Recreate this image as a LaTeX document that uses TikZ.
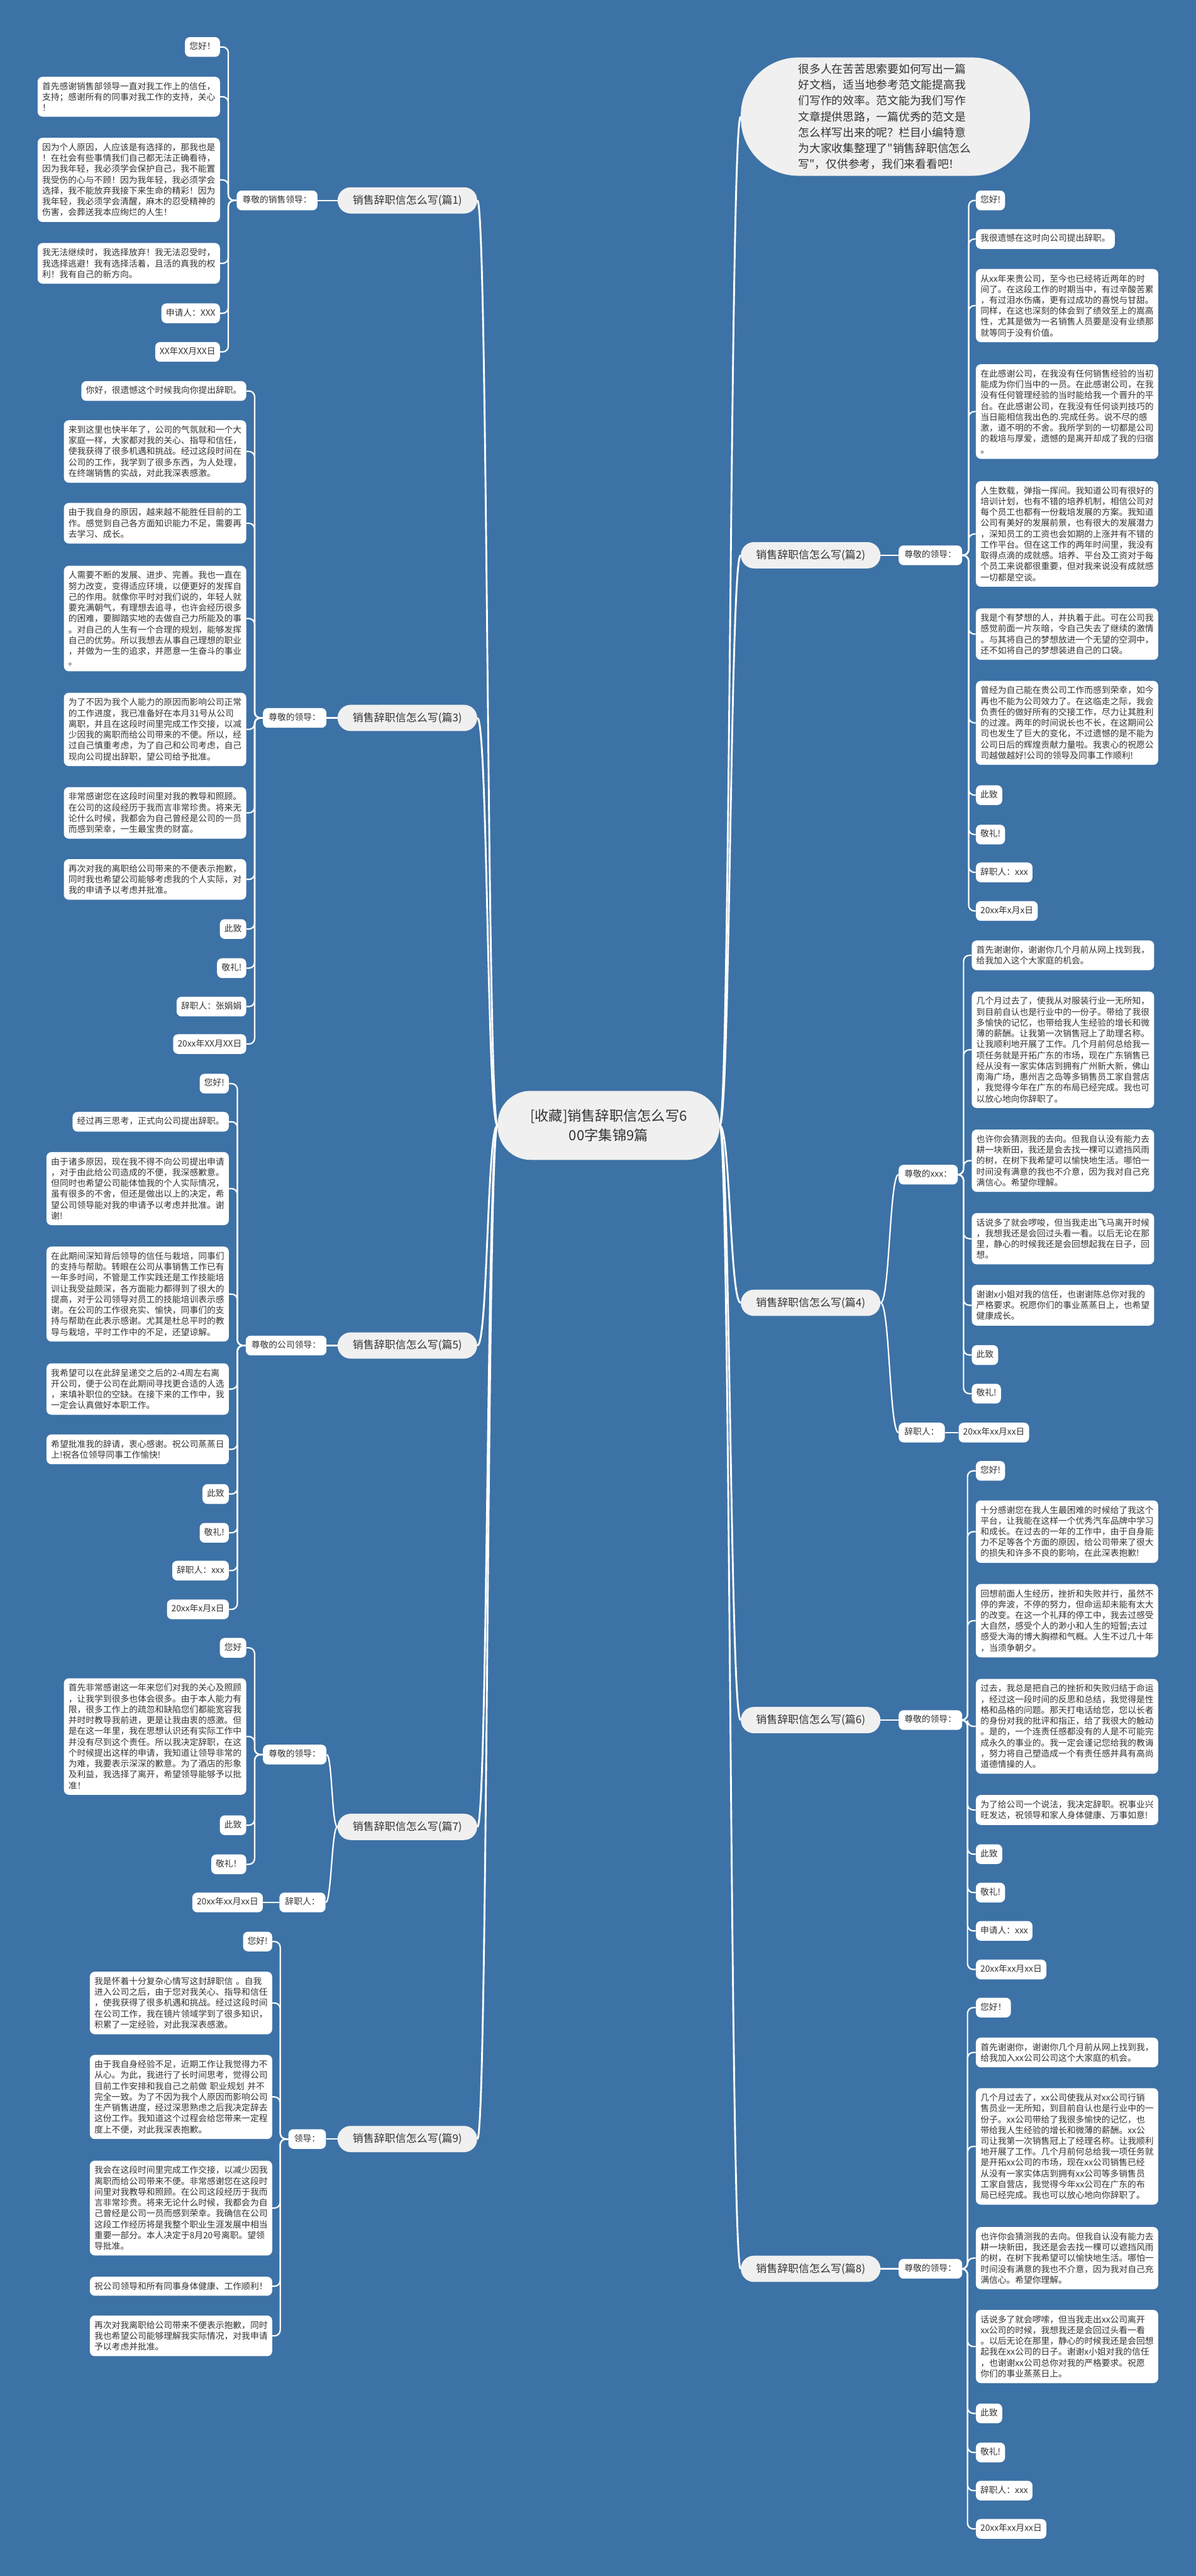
\documentclass[tikz,border=0pt]{standalone}
\usepackage{fontspec}
\newfontfamily\cjk{Noto Sans CJK SC}
\definecolor{bgblue}{HTML}{3D72A6}
\definecolor{ink}{HTML}{333333}
\definecolor{paper}{HTML}{F0F0F0}

\begin{document}
\begin{tikzpicture}[x=2pt,y=-2pt,
  leaf/.style={fill=white,text=ink,rounded corners=6pt,inner xsep=5.5pt,inner ysep=6.5pt,text height=8.5pt,text depth=2.5pt,font=\cjk\fontsize{10.54pt}{13.2pt}\selectfont},
  para/.style={fill=white,text=ink,rounded corners=6pt,inner xsep=5.6pt,inner ysep=6.6pt,text width=210.8pt,align=left,font=\cjk\fontsize{10.54pt}{13.2pt}\selectfont},
  tag/.style={leaf,inner xsep=7pt},
  topic/.style={fill=paper,text=ink,rounded corners=16pt,minimum width=170pt,minimum height=32pt,inner sep=2pt,font=\cjk\fontsize{13pt}{15pt}\selectfont},
  hub/.style={fill=paper,text=ink,rounded corners=40pt,minimum width=270pt,minimum height=84pt,align=center,font=\cjk\fontsize{17pt}{24pt}\selectfont},
  note/.style={fill=paper,text=ink,rounded corners=70pt,minimum width=352pt,minimum height=144pt,text width=212pt,align=left,font=\cjk\fontsize{13.6pt}{19.2pt}\selectfont},
  trunk/.style={draw=white,line width=2.2pt},
  twig/.style={draw=white,line width=1.7pt,rounded corners=7pt}]

\useasboundingbox (0,0) rectangle (728,1568);
\fill[bgblue] (0,0) rectangle (728,1568);

% centre and intro
\node[hub] (hub) at (370.5,685) {[收藏]销售辞职信怎么写6\\00字集锦9篇};
\node[note] (intro) at (539,71) {很多人在苦苦思索要如何写出一篇\\好文档，适当地参考范文能提高我\\们写作的效率。范文能为我们写作\\文章提供思路，一篇优秀的范文是\\怎么样写出来的呢？栏目小编特意\\为大家收集整理了"销售辞职信怎么\\写"，仅供参考，我们来看看吧！};

% topics
\node[topic] (B1) at (248,122) {销售辞职信怎么写(篇1)};
\node[topic] (B3) at (248,437) {销售辞职信怎么写(篇3)};
\node[topic] (B5) at (248,819) {销售辞职信怎么写(篇5)};
\node[topic] (B7) at (248,1112) {销售辞职信怎么写(篇7)};
\node[topic] (B9) at (248,1302) {销售辞职信怎么写(篇9)};
\node[topic] (B2) at (493.5,338) {销售辞职信怎么写(篇2)};
\node[topic] (B4) at (493.5,793) {销售辞职信怎么写(篇4)};
\node[topic] (B6) at (493.5,1047) {销售辞职信怎么写(篇6)};
\node[topic] (B8) at (493.5,1381) {销售辞职信怎么写(篇8)};

\foreach \b in {B1,B3,B5,B7,B9}
  \draw[trunk] (hub.west) .. controls +(-6.5,0) and +(6.5,0) .. (\b.east);
\foreach \b in {B2,B4,B6,B8,intro}
  \draw[trunk] (hub.east) .. controls +(6.5,0) and +(-6.5,0) .. (\b.west);

% labels
\node[tag,anchor=west] (L1) at (144,122) {尊敬的销售领导：};
\node[tag,anchor=west] (L3) at (160,437) {尊敬的领导：};
\node[tag,anchor=west] (L5) at (149.5,819) {尊敬的公司领导：};
\node[tag,anchor=west] (L7) at (160,1068) {尊敬的领导：};
\node[tag,anchor=west] (S7) at (170,1158) {辞职人：};
\node[leaf,anchor=west] (D7) at (117,1158) {20xx年xx月xx日};
\node[tag,anchor=west] (L9) at (175.5,1302) {领导：};
\node[tag,anchor=west] (L2) at (547,338) {尊敬的领导：};
\node[tag,anchor=west] (L4) at (547,715) {尊敬的xxx：};
\node[tag,anchor=west] (S4) at (547,872) {辞职人：};
\node[leaf,anchor=west] (D4) at (583.5,872) {20xx年xx月xx日};
\node[tag,anchor=west] (L6) at (547,1047) {尊敬的领导：};
\node[tag,anchor=west] (L8) at (547,1381) {尊敬的领导：};

\foreach \b/\l in {B1/L1,B3/L3,B5/L5,B9/L9}
  \draw[twig] (\b.west) -- (\l.east);
\foreach \b/\l in {B2/L2,B6/L6,B8/L8}
  \draw[twig] (\b.east) -- (\l.west);
\draw[twig] (B7.west) .. controls +(-3.5,0) and +(3.5,0) .. (L7.east);
\draw[twig] (B7.west) .. controls +(-3.5,0) and +(3.5,0) .. (S7.east);
\draw[twig] (S7.west) -- (D7.east);
\draw[twig] (B4.east) .. controls +(5.5,0) and +(-5.5,0) .. (L4.west);
\draw[twig] (B4.east) .. controls +(5.5,0) and +(-5.5,0) .. (S4.west);
\draw[twig] (S4.east) -- (D4.west);

% 篇1
\node[leaf,anchor=east] (c1-1) at (134,28.6) {您好！};
\node[para,anchor=east] (c1-2) at (134,58.9) {首先感谢销售部领导一直对我工作上的信任，\\支持；感谢所有的同事对我工作的支持，关心\\！};
\node[para,anchor=east] (c1-3) at (134,109.5) {因为个人原因，人应该是有选择的，那我也是\\！在社会有些事情我们自己都无法正确看待，\\因为我年轻，我必须学会保护自己，我不能置\\我受伤的心与不顾！因为我年轻，我必须学会\\选择，我不能放弃我接下来生命的精彩！因为\\我年轻，我必须学会清醒，麻木的忍受精神的\\伤害，会葬送我本应绚烂的人生！};
\node[para,anchor=east] (c1-4) at (134,160.3) {我无法继续时，我选择放弃！我无法忍受时，\\我选择逃避！我有选择活着，且活的真我的权\\利！我有自己的新方向。};
\node[leaf,anchor=east] (c1-5) at (134,190.7) {申请人：XXX};
\node[leaf,anchor=east] (c1-6) at (134,214.2) {XX年XX月XX日};
\coordinate (sp1) at (139,122);
\foreach \i in {1,...,6} \draw[twig] (L1.west) -- (sp1) |- (c1-\i.east);

% 篇3
\node[leaf,anchor=east] (c3-1) at (150,238) {你好，很遗憾这个时候我向你提出辞职。};
\node[para,anchor=east] (c3-2) at (150,274.8) {来到这里也快半年了，公司的气氛就和一个大\\家庭一样，大家都对我的关心、指导和信任，\\使我获得了很多机遇和挑战。经过这段时间在\\公司的工作，我学到了很多东西，为人处理，\\在终端销售的实战，对此我深表感激。};
\node[para,anchor=east] (c3-3) at (150,318.5) {由于我自身的原因，越来越不能胜任目前的工\\作。感觉到自己各方面知识能力不足，需要再\\去学习、成长。};
\node[para,anchor=east] (c3-4) at (150,376.5) {人需要不断的发展、进步、完善。我也一直在\\努力改变，变得适应环境，以便更好的发挥自\\己的作用。就像你平时对我们说的，年轻人就\\要充满朝气，有理想去追寻，也许会经历很多\\的困难，要脚踏实地的去做自己力所能及的事\\。对自己的人生有一个合理的规划，能够发挥\\自己的优势。所以我想去从事自己理想的职业\\，并做为一生的追求，并愿意一生奋斗的事业\\。};
\node[para,anchor=east] (c3-5) at (150,444) {为了不因为我个人能力的原因而影响公司正常\\的工作进度，我已准备好在本月31号从公司\\离职，并且在这段时间里完成工作交接，以减\\少因我的离职而给公司带来的不便。所以，经\\过自己慎重考虑，为了自己和公司考虑，自己\\现向公司提出辞职，望公司给予批准。};
\node[para,anchor=east] (c3-6) at (150,494.8) {非常感谢您在这段时间里对我的教导和照顾。\\在公司的这段经历于我而言非常珍贵。将来无\\论什么时候，我都会为自己曾经是公司的一员\\而感到荣幸，一生最宝贵的财富。};
\node[para,anchor=east] (c3-7) at (150,535.3) {再次对我的离职给公司带来的不便表示抱歉，\\同时我也希望公司能够考虑我的个人实际，对\\我的申请予以考虑并批准。};
\node[leaf,anchor=east] (c3-8) at (150,565.5) {此致};
\node[leaf,anchor=east] (c3-9) at (150,589.3) {敬礼!};
\node[leaf,anchor=east] (c3-10) at (150,612.7) {辞职人：张娟娟};
\node[leaf,anchor=east] (c3-11) at (150,635.5) {20xx年XX月XX日};
\coordinate (sp3) at (155,437);
\foreach \i in {1,...,11} \draw[twig] (L3.west) -- (sp3) |- (c3-\i.east);

% 篇5
\node[leaf,anchor=east] (c5-1) at (139.4,659.6) {您好!};
\node[leaf,anchor=east] (c5-2) at (139.4,682.8) {经过再三思考，正式向公司提出辞职。};
\node[para,anchor=east] (c5-3) at (139.4,723.5) {由于诸多原因，现在我不得不向公司提出申请\\，对于由此给公司造成的不便，我深感歉意。\\但同时也希望公司能体恤我的个人实际情况，\\虽有很多的不舍，但还是做出以上的决定，希\\望公司领导能对我的申请予以考虑并批准。谢\\谢!};
\node[para,anchor=east] (c5-4) at (139.4,787.7) {在此期间深知背后领导的信任与栽培，同事们\\的支持与帮助。转眼在公司从事销售工作已有\\一年多时间，不管是工作实践还是工作技能培\\训让我受益颇深，各方面能力都得到了很大的\\提高，对于公司领导对员工的技能培训表示感\\谢。在公司的工作很充实、愉快，同事们的支\\持与帮助在此表示感谢。尤其是杜总平时的教\\导与栽培，平时工作中的不足，还望谅解。};
\node[para,anchor=east] (c5-5) at (139.4,845.5) {我希望可以在此辞呈递交之后的2-4周左右离\\开公司，便于公司在此期间寻找更合适的人选\\，来填补职位的空缺。在接下来的工作中，我\\一定会认真做好本职工作。};
\node[para,anchor=east] (c5-6) at (139.4,882.2) {希望批准我的辞请，衷心感谢。祝公司蒸蒸日\\上!祝各位领导同事工作愉快!};
\node[leaf,anchor=east] (c5-7) at (139.4,909.4) {此致};
\node[leaf,anchor=east] (c5-8) at (139.4,933) {敬礼!};
\node[leaf,anchor=east] (c5-9) at (139.4,956) {辞职人：xxx};
\node[leaf,anchor=east] (c5-10) at (139.4,979.6) {20xx年x月x日};
\coordinate (sp5) at (144.5,819);
\foreach \i in {1,...,10} \draw[twig] (L5.west) -- (sp5) |- (c5-\i.east);

% 篇7
\node[leaf,anchor=east] (c7-1) at (150,1003) {您好};
\node[para,anchor=east] (c7-2) at (150,1057) {首先非常感谢这一年来您们对我的关心及照顾\\，让我学到很多也体会很多。由于本人能力有\\限，很多工作上的疏忽和缺陷您们都能宽容我\\并时时教导我前进，更是让我由衷的感激。但\\是在这一年里，我在思想认识还有实际工作中\\并没有尽到这个责任。所以我决定辞职，在这\\个时候提出这样的申请，我知道让领导非常的\\为难，我要表示深深的歉意。为了酒店的形象\\及利益，我选择了离开，希望领导能够予以批\\准！};
\node[leaf,anchor=east] (c7-3) at (150,1111) {此致};
\node[leaf,anchor=east] (c7-4) at (150,1134.8) {敬礼！};
\coordinate (sp7) at (155,1068);
\foreach \i in {1,...,4} \draw[twig] (L7.west) -- (sp7) |- (c7-\i.east);

% 篇9
\node[leaf,anchor=east] (c9-1) at (165.8,1181.8) {您好!};
\node[para,anchor=east] (c9-2) at (165.8,1219.2) {我是怀着十分复杂心情写这封辞职信~。自我\\进入公司之后，由于您对我关心、指导和信任\\，使我获得了很多机遇和挑战。经过这段时间\\在公司工作，我在镜片领域学到了很多知识，\\积累了一定经验，对此我深表感激。};
\node[para,anchor=east] (c9-3) at (165.8,1276.4) {由于我自身经验不足，近期工作让我觉得力不\\从心。为此，我进行了长时间思考，觉得公司\\目前工作安排和我自己之前做~职业规划~并不\\完全一致。为了不因为我个人原因而影响公司\\生产销售进度，经过深思熟虑之后我决定辞去\\这份工作。我知道这个过程会给您带来一定程\\度上不便，对此我深表抱歉。};
\node[para,anchor=east] (c9-4) at (165.8,1344) {我会在这段时间里完成工作交接，以减少因我\\离职而给公司带来不便。非常感谢您在这段时\\间里对我教导和照顾。在公司这段经历于我而\\言非常珍贵。将来无论什么时候，我都会为自\\己曾经是公司一员而感到荣幸。我确信在公司\\这段工作经历将是我整个职业生涯发展中相当\\重要一部分。本人决定于8月20号离职。望领\\导批准。};
\node[para,anchor=east] (c9-5) at (165.8,1391.6) {祝公司领导和所有同事身体健康、工作顺利！};
\node[para,anchor=east] (c9-6) at (165.8,1421.8) {再次对我离职给公司带来不便表示抱歉，同时\\我也希望公司能够理解我实际情况，对我申请\\予以考虑并批准。};
\coordinate (sp9) at (170.6,1302);
\foreach \i in {1,...,6} \draw[twig] (L9.west) -- (sp9) |- (c9-\i.east);

% 篇2
\node[leaf,anchor=west] (c2-1) at (594,122) {您好!};
\node[leaf,anchor=west] (c2-2) at (594,145.5) {我很遗憾在这时向公司提出辞职。};
\node[para,anchor=west] (c2-3) at (594,186) {从xx年来贵公司，至今也已经将近两年的时\\间了。在这段工作的时期当中，有过辛酸苦累\\，有过泪水伤痛，更有过成功的喜悦与甘甜。\\同样，在这也深刻的体会到了绩效至上的嵩高\\性，尤其是做为一名销售人员要是没有业绩那\\就等同于没有价值。};
\node[para,anchor=west] (c2-4) at (594,250.5) {在此感谢公司，在我没有任何销售经验的当初\\能成为你们当中的一员。在此感谢公司，在我\\没有任何管理经验的当时能给我一个晋升的平\\台。在此感谢公司，在我没有任何谈判技巧的\\当日能相信我出色的.完成任务。说不尽的感\\激，道不明的不舍。我所学到的一切都是公司\\的栽培与厚爱，遗憾的是离开却成了我的归宿\\。};
\node[para,anchor=west] (c2-5) at (594,325) {人生数载，弹指一挥间。我知道公司有很好的\\培训计划，也有不错的培养机制，相信公司对\\每个员工也都有一份栽培发展的方案。我知道\\公司有美好的发展前景，也有很大的发展潜力\\，深知员工的工资也会如期的上涨并有不错的\\工作平台。但在这工作的两年时间里，我没有\\取得点滴的成就感。培养、平台及工资对于每\\个员工来说都很重要，但对我来说没有成就感\\一切都是空谈。};
\node[para,anchor=west] (c2-6) at (594,386) {我是个有梦想的人，并执着于此。可在公司我\\感觉前面一片灰暗，令自己失去了继续的激情\\。与其将自己的梦想放进一个无望的空洞中，\\还不如将自己的梦想装进自己的口袋。};
\node[para,anchor=west] (c2-7) at (594,440) {曾经为自己能在贵公司工作而感到荣幸，如今\\再也不能为公司效力了。在这临走之际，我会\\负责任的做好所有的交接工作，尽力让其胜利\\的过渡。两年的时间说长也不长，在这期间公\\司也发生了巨大的变化，不过遗憾的是不能为\\公司日后的辉煌贡献力量啦。我衷心的祝愿公\\司越做越好!公司的领导及同事工作顺利!};
\node[leaf,anchor=west] (c2-8) at (594,484) {此致};
\node[leaf,anchor=west] (c2-9) at (594,508) {敬礼!};
\node[leaf,anchor=west] (c2-10) at (594,531) {辞职人：xxx};
\node[leaf,anchor=west] (c2-11) at (594,554.5) {20xx年x月x日};
\coordinate (sp2) at (589.7,338);
\foreach \i in {1,...,11} \draw[twig] (L2.east) -- (sp2) |- (c2-\i.west);

% 篇4
\node[para,anchor=west] (c4-1) at (591.5,581.5) {首先谢谢你，谢谢你几个月前从网上找到我，\\给我加入这个大家庭的机会。};
\node[para,anchor=west] (c4-2) at (591.5,639) {几个月过去了，使我从对服装行业一无所知，\\到目前自认也是行业中的一份子。带给了我很\\多愉快的记忆，也带给我人生经验的增长和微\\薄的薪酬。让我第一次销售冠上了助理名称。\\让我顺利地开展了工作。几个月前何总给我一\\项任务就是开拓广东的市场，现在广东销售已\\经从没有一家实体店到拥有广州新大新，佛山\\南海广场，惠州吉之岛等多销售员工家自营店\\，我觉得今年在广东的布局已经完成。我也可\\以放心地向你辞职了。};
\node[para,anchor=west] (c4-3) at (591.5,706.5) {也许你会猜测我的去向。但我自认没有能力去\\耕一块新田，我还是会去找一棵可以遮挡风雨\\的树，在树下我希望可以愉快地生活。哪怕一\\时间没有满意的我也不介意，因为我对自己充\\满信心。希望你理解。};
\node[para,anchor=west] (c4-4) at (591.5,754) {话说多了就会啰唆，但当我走出飞马离开时候\\，我想我还是会回过头看一看。以后无论在那\\里，静心的时候我还是会回想起我在日子，回\\想。};
\node[para,anchor=west] (c4-5) at (591.5,794.5) {谢谢x小姐对我的信任，也谢谢陈总你对我的\\严格要求。祝愿你们的事业蒸蒸日上，也希望\\健康成长。};
\node[leaf,anchor=west] (c4-6) at (591.5,824.8) {此致};
\node[leaf,anchor=west] (c4-7) at (591.5,848.3) {敬礼!};
\coordinate (sp4) at (586.6,715);
\foreach \i in {1,...,7} \draw[twig] (L4.east) -- (sp4) |- (c4-\i.west);

% 篇6
\node[leaf,anchor=west] (c6-1) at (594,895.3) {您好!};
\node[para,anchor=west] (c6-2) at (594,932.3) {十分感谢您在我人生最困难的时候给了我这个\\平台，让我能在这样一个优秀汽车品牌中学习\\和成长。在过去的一年的工作中，由于自身能\\力不足等各个方面的原因，给公司带来了很大\\的损失和许多不良的影响，在此深表抱歉!};
\node[para,anchor=west] (c6-3) at (594,986.5) {回想前面人生经历，挫折和失败并行，虽然不\\停的奔波，不停的努力，但命运却未能有太大\\的改变。在这一个礼拜的停工中，我去过感受\\大自然，感受个人的渺小和人生的短暂;去过\\感受大海的博大胸襟和气概。人生不过几十年\\，当须争朝夕。};
\node[para,anchor=west] (c6-4) at (594,1050.8) {过去，我总是把自己的挫折和失败归结于命运\\，经过这一段时间的反思和总结，我觉得是性\\格和品格的问题。那天打电话给您，您以长者\\的身份对我的批评和指正，给了我很大的触动\\。是的，一个连责任感都没有的人是不可能完\\成永久的事业的。我一定会谨记您给我的教诲\\，努力将自己塑造成一个有责任感并具有高尚\\道德情操的人。};
\node[para,anchor=west] (c6-5) at (594,1101.7) {为了给公司一个说法，我决定辞职。祝事业兴\\旺发达，祝领导和家人身体健康、万事如意!};
\node[leaf,anchor=west] (c6-6) at (594,1128.6) {此致};
\node[leaf,anchor=west] (c6-7) at (594,1152) {敬礼!};
\node[leaf,anchor=west] (c6-8) at (594,1175.3) {申请人：xxx};
\node[leaf,anchor=west] (c6-9) at (594,1198.8) {20xx年xx月xx日};
\coordinate (sp6) at (589,1047);
\foreach \i in {1,...,9} \draw[twig] (L6.east) -- (sp6) |- (c6-\i.west);

% 篇8
\node[leaf,anchor=west] (c8-1) at (594,1222) {您好！};
\node[para,anchor=west] (c8-2) at (594,1249.3) {首先谢谢你，谢谢你几个月前从网上找到我，\\给我加入xx公司公司这个大家庭的机会。};
\node[para,anchor=west] (c8-3) at (594,1306.5) {几个月过去了，xx公司使我从对xx公司行销\\售员业一无所知，到目前自认也是行业中的一\\份子。xx公司带给了我很多愉快的记忆，也\\带给我人生经验的增长和微薄的薪酬。xx公\\司让我第一次销售冠上了经理名称。让我顺利\\地开展了工作。几个月前何总给我一项任务就\\是开拓xx公司的市场，现在xx公司销售已经\\从没有一家实体店到拥有xx公司等多销售员\\工家自营店，我觉得今年xx公司在广东的布\\局已经完成。我也可以放心地向你辞职了。};
\node[para,anchor=west] (c8-4) at (594,1374.5) {也许你会猜测我的去向。但我自认没有能力去\\耕一块新田，我还是会去找一棵可以遮挡风雨\\的树，在树下我希望可以愉快地生活。哪怕一\\时间没有满意的我也不介意，因为我对自己充\\满信心。希望你理解。};
\node[para,anchor=west] (c8-5) at (594,1428.3) {话说多了就会啰嗦，但当我走出xx公司离开\\xx公司的时候，我想我还是会回过头看一看\\。以后无论在那里，静心的时候我还是会回想\\起我在xx公司的日子。谢谢x小姐对我的信任\\，也谢谢xx公司总你对我的严格要求。祝愿\\你们的事业蒸蒸日上。};
\node[leaf,anchor=west] (c8-6) at (594,1469) {此致};
\node[leaf,anchor=west] (c8-7) at (594,1492.8) {敬礼!};
\node[leaf,anchor=west] (c8-8) at (594,1516) {辞职人：xxx};
\node[leaf,anchor=west] (c8-9) at (594,1539.3) {20xx年xx月xx日};
\coordinate (sp8) at (589,1381);
\foreach \i in {1,...,9} \draw[twig] (L8.east) -- (sp8) |- (c8-\i.west);
\end{tikzpicture}
\end{document}
